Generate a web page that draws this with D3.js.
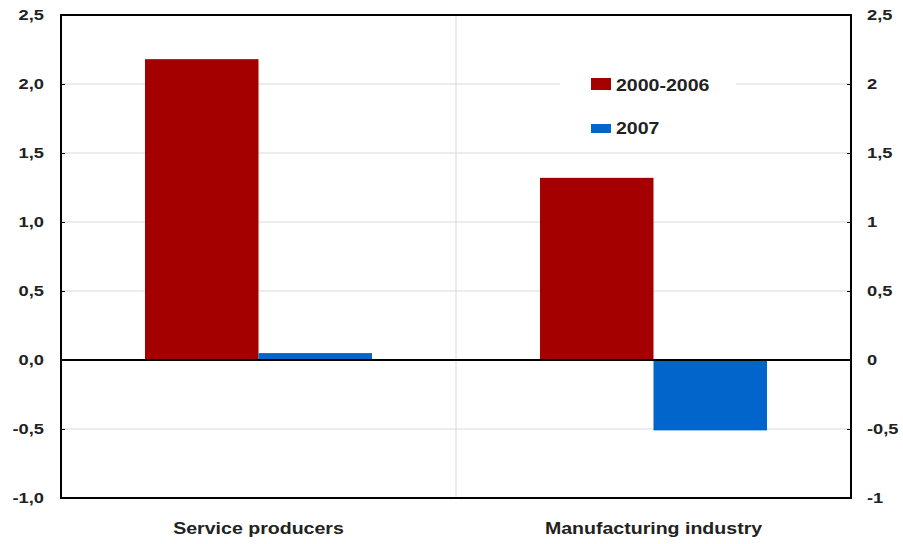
<!DOCTYPE html>
<html><head><meta charset="utf-8">
<script src="https://cdn.jsdelivr.net/npm/d3@7"></script>
<style>body{margin:0;background:#fff}svg{display:block}text{font-family:"Liberation Sans",Arial,sans-serif;font-weight:bold;fill:#222}</style>
</head><body>
<svg id="c" width="903" height="544"></svg>
<script>
const categories = ["Service producers", "Manufacturing industry"];
const seriesNames = ["2000-2006", "2007"];
const values2000_2006 = [2.18, 1.32];
const values2007 = [0.05, -0.51];
const tickValues = [-1, -0.5, 0, 0.5, 1, 1.5, 2, 2.5];
const leftTickLabels = ["-1,0", "-0,5", "0,0", "0,5", "1,0", "1,5", "2,0", "2,5"];
const rightTickLabels = ["-1", "-0,5", "0", "0,5", "1", "1,5", "2", "2,5"];
const colors = ["#A50000", "#0066CC"];

function stretch(sel, f) {
  sel.each(function () {
    const w = this.getComputedTextLength();
    d3.select(this).attr("textLength", w * f).attr("lengthAdjust", "spacingAndGlyphs");
  });
}

const svg = d3.select("#c");
const m = {l: 61, r: 52, t: 15, b: 46};
const W = 903, H = 544;
const x0 = d3.scaleBand().domain(categories).range([m.l, W - m.r]).paddingInner(0).paddingOuter(0);
const x1 = d3.scaleBand().domain(seriesNames).range([0, x0.bandwidth()]).paddingOuter(0.74).paddingInner(0);
const y = d3.scaleLinear().domain([-1, 2.5]).range([H - m.b, m.t]);

const series = [values2000_2006, values2007];

// gridlines
svg.append("g").selectAll("line").data(tickValues.filter(v => v !== 0 && v !== -1 && v !== 2.5))
  .join("line").attr("x1", m.l).attr("x2", W - m.r).attr("y1", d => y(d)).attr("y2", d => y(d))
  .attr("stroke", "#d9d9d9").attr("stroke-width", 1);
// vertical divider
svg.append("line").attr("x1", x0(categories[1])).attr("x2", x0(categories[1]))
  .attr("y1", m.t).attr("y2", H - m.b).attr("stroke", "#d9d9d9");

// bars
categories.forEach((c, i) => {
  seriesNames.forEach((s, j) => {
    const v = series[j][i];
    svg.append("rect").attr("x", x0(c) + x1(s)).attr("width", x1.bandwidth())
      .attr("y", y(Math.max(0, v))).attr("height", Math.abs(y(v) - y(0)))
      .attr("fill", colors[j]);
  });
});

// zero line
svg.append("line").attr("x1", m.l).attr("x2", W - m.r).attr("y1", y(0)).attr("y2", y(0))
  .attr("stroke", "#000").attr("stroke-width", 2);

// axes
const left = d3.axisLeft(y).tickValues(tickValues).tickSizeInner(-4).tickSizeOuter(0)
  .tickPadding(17).tickFormat((d, i) => leftTickLabels[i]);
const gl = svg.append("g").attr("transform", `translate(${m.l},0)`).call(left);
const right = d3.axisRight(y).tickValues(tickValues).tickSizeInner(-4).tickSizeOuter(0)
  .tickPadding(16).tickFormat((d, i) => rightTickLabels[i]);
const gr = svg.append("g").attr("transform", `translate(${W - m.r},0)`).call(right);
[gl, gr].forEach(g => {
  g.select(".domain").remove();
  g.selectAll(".tick line").attr("stroke", "#000");
  const t = g.selectAll("text").style("font-size", "15px").attr("fill", "#222").attr("font-family", null);
  stretch(t, 1.22);
});

// frame
svg.append("rect").attr("x", m.l).attr("y", m.t).attr("width", W - m.l - m.r).attr("height", H - m.t - m.b)
  .attr("fill", "none").attr("stroke", "#000").attr("stroke-width", 2);

// category labels
const bx = d3.axisBottom(x0).tickSize(0).tickPadding(24);
const gb = svg.append("g").attr("transform", `translate(0,${H - m.b})`).call(bx);
gb.select(".domain").remove();
stretch(gb.selectAll("text").style("font-size", "17px").attr("fill", "#222").attr("font-family", null), 1.15);

// legend
const lg = svg.append("g");
lg.append("rect").attr("x", 560).attr("y", 64).attr("width", 176).attr("height", 84).attr("fill", "#fff");
seriesNames.forEach((s, j) => {
  const base = j === 0 ? 91 : 134;
  lg.append("rect").attr("x", 591).attr("y", j === 0 ? 78 : 124).attr("width", 20).attr("height", j === 0 ? 12 : 9).attr("fill", colors[j]);
  const t = lg.append("text").attr("x", 616).attr("y", base).style("font-size", "17px").text(s);
  stretch(t, 1.15);
});
</script>
</body></html>
